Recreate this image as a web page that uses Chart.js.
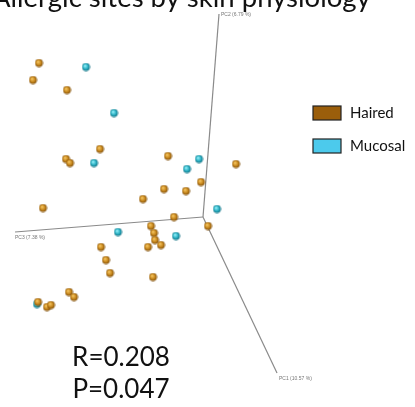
<!DOCTYPE html>
<html>
<head>
<meta charset="utf-8">
<script src="https://cdn.jsdelivr.net/npm/chart.js@4"></script>
<style>
  html, body { margin: 0; padding: 0; background: #fff; }
  #wrap { width: 415px; height: 407px; }
</style>
</head>
<body>
<div id="wrap"><canvas id="pcoa" width="415" height="407"></canvas></div>
<script>
// PCoA sample scores, projected onto the viewing plane
const hairedX = [-1.64, -1.70, -1.36, -1.03, -1.37, -1.33, -0.35, 0.33, -0.02, -0.39, -0.17, -0.60, -1.60, -0.29, 0.05,
                 -0.52, -0.49, -0.48, -0.55, -0.42, -1.02, -0.97, -0.93, -0.50, -1.34, -1.29, -1.65, -1.56, -1.52];
const hairedY = [1.54, 1.37, 1.27, 0.68, 0.58, 0.54, 0.61, 0.53, 0.35, 0.28, 0.26, 0.18, 0.09, 0.00, -0.09,
                 -0.09, -0.16, -0.23, -0.30, -0.28, -0.30, -0.43, -0.56, -0.60, -0.75, -0.80, -0.85, -0.90, -0.88];
const mucosalX = [-1.17, -0.89, -1.09, -0.04, -0.16, 0.14, -0.27, -0.85, -1.66];
const mucosalY = [1.50, 1.04, 0.54, 0.58, 0.48, 0.08, -0.19, -0.15, -0.87];

// projected ends of the three principal axes
const axisNames = ['PC1 (10.57 %)', 'PC2 (6.79 %)', 'PC3 (7.38 %)'];
const axisEndX = [0.74, 0.16, -1.88];
const axisEndY = [-1.56, 2.03, -0.15];

const groupNames = ['Haired', 'Mucosal'];
const statR = 0.208;
const statP = 0.047;
const titleText = 'Allergic sites by skin physiology';

const toPoints = (xs, ys) => xs.map((x, i) => ({ x: x, y: ys[i] }));

// small shaded ball used as the point style
function makeBall(light, mid, dark) {
  const c = document.createElement('canvas');
  c.width = 9; c.height = 9;
  const g = c.getContext('2d');
  const grad = g.createRadialGradient(3.4, 3.2, 0.3, 4.5, 4.5, 4.2);
  grad.addColorStop(0, light);
  grad.addColorStop(0.55, mid);
  grad.addColorStop(1, dark);
  g.fillStyle = grad;
  g.beginPath();
  g.arc(4.5, 4.5, 3.9, 0, Math.PI * 2);
  g.fill();
  return c;
}
const brownBall = makeBall('#f6c865', '#c9891e', '#7a4906');
const cyanBall = makeBall('#9af2fa', '#2db3c6', '#0b6a7c');

const legendFill = ['#9b5e0b', '#4ccaec'];

const axisSets = axisNames.map((name, i) => ({
  label: name,
  data: [{ x: 0, y: 0 }, { x: axisEndX[i], y: axisEndY[i] }],
  showLine: true,
  borderColor: '#8a8a8a',
  borderWidth: 1.2,
  pointRadius: 0
}));

const extras = {
  id: 'extras',
  afterDatasetsDraw(chart) {
    const ctx = chart.ctx;
    const xs = chart.scales.x, ys = chart.scales.y;
    ctx.save();

    // axis captions at the ends of PC1, PC2, PC3
    ctx.fillStyle = '#777';
    ctx.font = '5px "Liberation Sans"';
    const offs = [[2, 3, 'top'], [2, 1, 'middle'], [0, 3, 'top']];
    axisNames.forEach((name, i) => {
      const px = xs.getPixelForValue(axisEndX[i]);
      const py = ys.getPixelForValue(axisEndY[i]);
      ctx.textAlign = 'left';
      ctx.textBaseline = offs[i][2];
      ctx.fillText(name, px + offs[i][0], py + offs[i][1]);
    });

    // legend
    ctx.font = '15px Lato';
    ctx.textBaseline = 'middle';
    ctx.textAlign = 'left';
    groupNames.forEach((name, i) => {
      const y = 106 + i * 33;
      ctx.fillStyle = legendFill[i];
      ctx.fillRect(313, y, 28, 14);
      ctx.strokeStyle = '#222';
      ctx.lineWidth = 1.2;
      ctx.strokeRect(313, y, 28, 14);
      ctx.fillStyle = '#111';
      ctx.fillText(name, 350, y + 7);
    });

    // test statistics
    ctx.font = '26px Lato';
    ctx.textAlign = 'center';
    ctx.textBaseline = 'alphabetic';
    ctx.fillStyle = '#111';
    ctx.fillText('R=' + statR.toFixed(3), 121, 366);
    ctx.fillText('P=' + statP.toFixed(3), 121, 398);

    // title, running off the top edge
    ctx.font = '100px Lato';
    const w = ctx.measureText(titleText).width;
    ctx.font = (100 * 378 / w).toFixed(1) + 'px Lato';
    ctx.textAlign = 'left';
    ctx.fillText(titleText, -8, 7);

    ctx.restore();
  }
};

new Chart(document.getElementById('pcoa'), {
  type: 'scatter',
  data: {
    datasets: [
      { label: groupNames[0], data: toPoints(hairedX, hairedY), pointStyle: brownBall },
      { label: groupNames[1], data: toPoints(mucosalX, mucosalY), pointStyle: cyanBall }
    ].concat(axisSets)
  },
  options: {
    responsive: false,
    animation: false,
    layout: { padding: 0, autoPadding: false },
    plugins: { legend: { display: false }, tooltip: { enabled: false } },
    scales: {
      x: { display: false, min: -2.03, max: 2.12 },
      y: { display: false, min: -1.90, max: 2.17 }
    }
  },
  plugins: [extras]
});
</script>
</body>
</html>
